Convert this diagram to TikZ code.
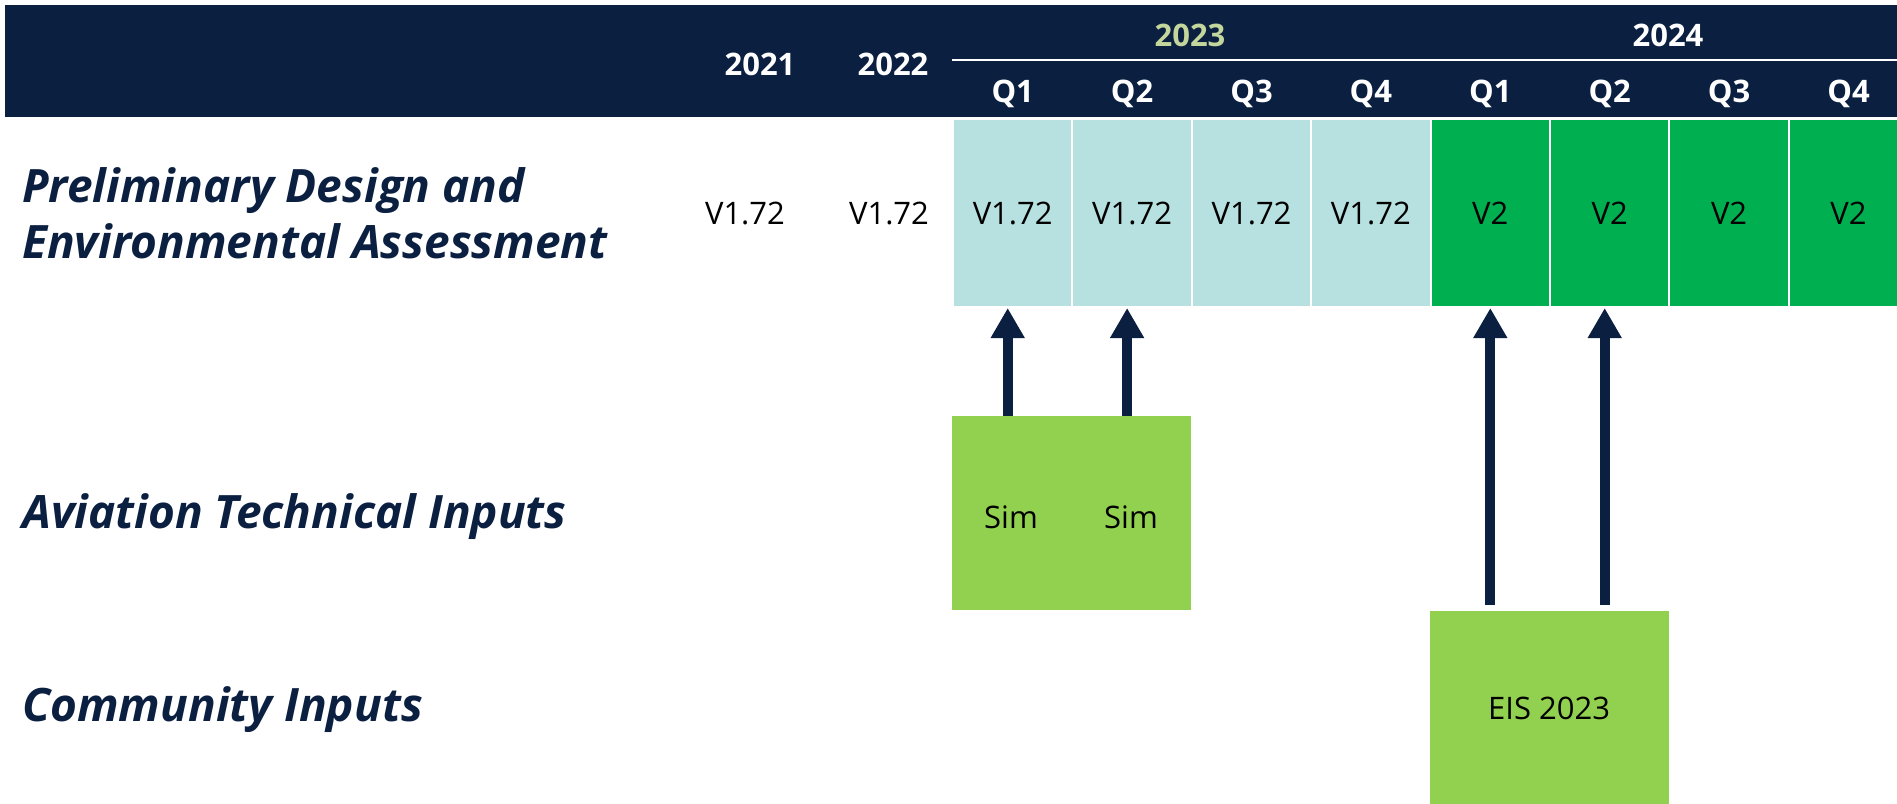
\documentclass[tikz,border=0pt]{standalone}
\usepackage{fontspec}
\setmainfont{Open Sans}
\usetikzlibrary{arrows.meta}
\definecolor{navy}{HTML}{0B1F41}
\definecolor{lteal}{HTML}{B7E1E1}
\definecolor{dgreen}{HTML}{00B050}
\definecolor{lgreen}{HTML}{92D050}
\definecolor{yrgreen}{HTML}{C3D69B}
\begin{document}
\begin{tikzpicture}[x=1pt,y=-1pt,
  hdr/.style={text=white,font=\fontsize{31}{36}\selectfont\bfseries,inner sep=0pt},
  lbl/.style={text=navy,font=\fontsize{46}{56}\selectfont\bfseries\itshape,anchor=west,align=left,inner sep=0pt},
  txt/.style={text=black,font=\fontsize{31}{36}\selectfont,inner sep=0pt},
  cellbox/.style={draw=white,line width=2pt,minimum width=119.4pt,minimum height=188pt,inner sep=0pt,anchor=north west,font=\fontsize{31}{36}\selectfont},
  inbox/.style={fill=lgreen,minimum width=238.8pt,inner sep=0pt,anchor=north west,font=\fontsize{31}{36}\selectfont},
  arr/.style={navy,line width=10pt,-{Triangle[width=32pt,length=30pt]}}
]
\useasboundingbox (0,0) rectangle (1897,803);
% header band
\fill[navy] (5,5) rectangle (1900,117);
\draw[white,line width=2pt] (952,60) -- (1900,60);
\node[hdr] (y21) at (760,64) {2021};
\node[hdr] (y22) at (893,64) {2022};
\node[hdr,text=yrgreen] (y23) at (1190,35) {2023};
\node[hdr] (y24) at (1668,35) {2024};
% cells
\foreach \i/\c/\t in {1/lteal/V1.72,2/lteal/V1.72,3/lteal/V1.72,4/lteal/V1.72,5/dgreen/V2,6/dgreen/V2,7/dgreen/V2,8/dgreen/V2}{
  \node[cellbox,fill=\c] (c\i) at ({952+(\i-1)*119.4},118) {\t};
}
\foreach \i/\q in {1/Q1,2/Q2,3/Q3,4/Q4,5/Q1,6/Q2,7/Q3,8/Q4}{
  \node[hdr] (q\i) at (c\i.center |- 0,94) {\q};
}
\node[txt] (v21) at (745,213) {V1.72};
\node[txt] (v22) at (889,213) {V1.72};
% row labels
\node[lbl] (r1) at (22,213) {Preliminary Design and\\Environmental Assessment};
\node[lbl] (r2) at (22,517) {Aviation Technical Inputs};
\node[lbl] (r3) at (22,710) {Community Inputs};
% input boxes
\node[inbox,minimum height=194pt] (sim) at (952,416) {};
\node[txt] (s1) at (1011,517) {Sim};
\node[txt] (s2) at (1131,517) {Sim};
\node[inbox,minimum height=194pt] (eis) at (1429.5,611) {EIS 2023};
% arrows
\draw[arr] ([xshift=-5pt]c1.south |- sim.north) -- ([xshift=-5pt]c1.south);
\draw[arr] ([xshift=-5pt]c2.south |- sim.north) -- ([xshift=-5pt]c2.south);
\draw[arr] ([yshift=6pt]c5.south |- eis.north) -- (c5.south);
\draw[arr] ([xshift=-5pt,yshift=6pt]c6.south |- eis.north) -- ([xshift=-5pt]c6.south);
\end{tikzpicture}
\end{document}
